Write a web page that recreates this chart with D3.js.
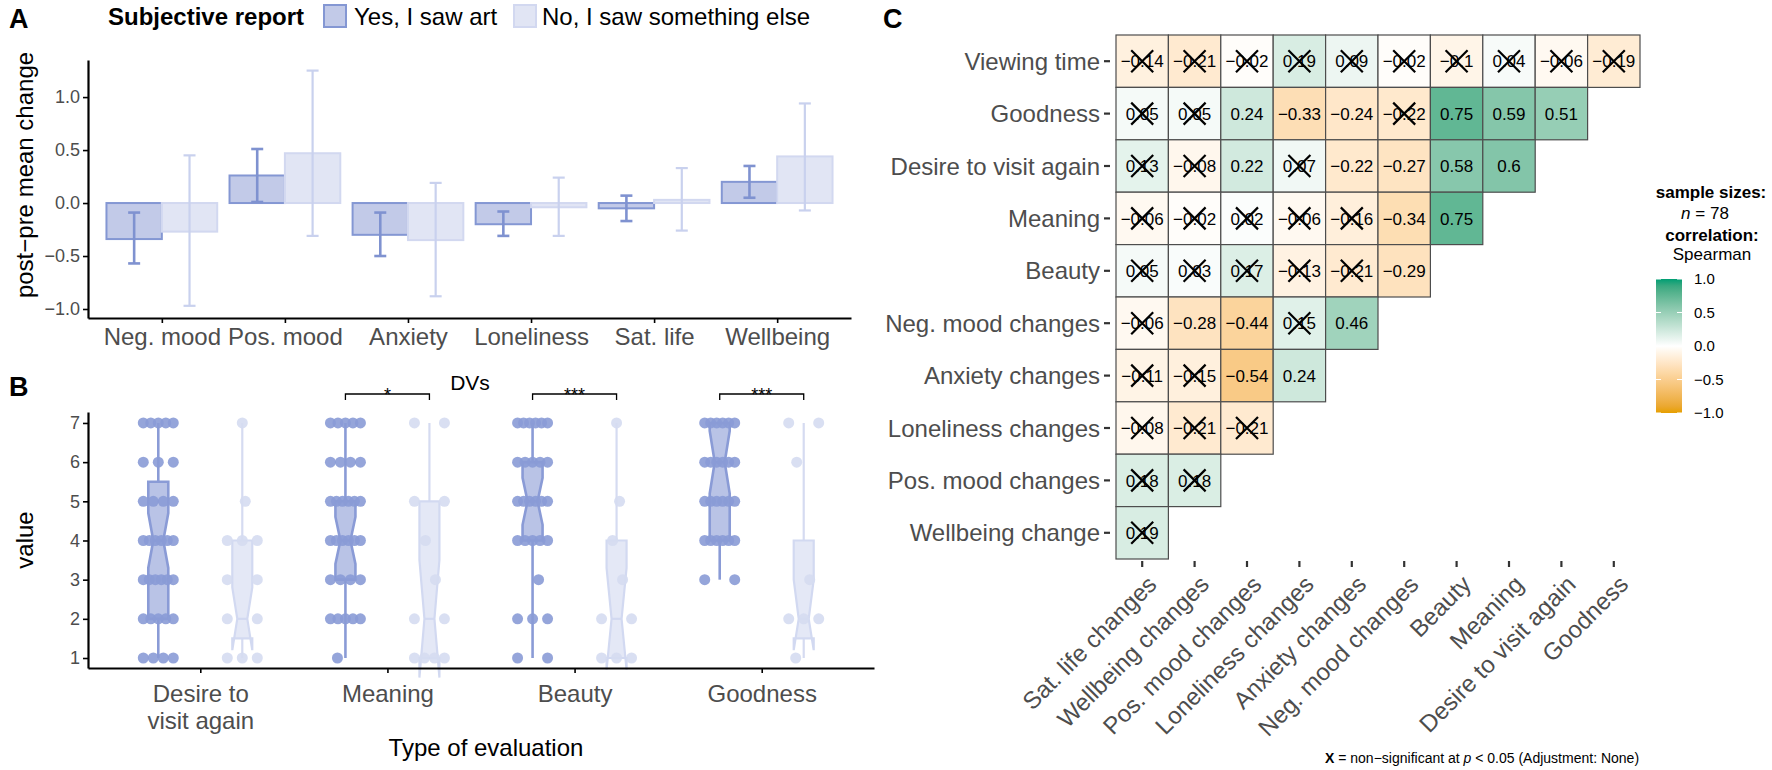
<!DOCTYPE html>
<html>
<head>
<meta charset="utf-8">
<script src="https://cdn.jsdelivr.net/npm/d3@7"></script>
<style>
  body { margin: 0; background: #fff; }
  svg { font-family: "Liberation Sans", Arial, sans-serif; }
</style>
</head>
<body>
<svg id="fig" width="1772" height="770"></svg>
<script>
// ---------- data: panel A ----------
const dvLabels = ["Neg. mood", "Pos. mood", "Anxiety", "Loneliness", "Sat. life", "Wellbeing"];
const groupLabels = ["Yes, I saw art", "No, I saw something else"];
const meanYes = [-0.34, 0.26, -0.30, -0.20, -0.05, 0.20];
const lowYes = [-0.57, 0.01, -0.50, -0.31, -0.17, 0.05];
const highYes = [-0.09, 0.51, -0.09, -0.08, 0.07, 0.35];
const meanNo = [-0.27, 0.47, -0.35, -0.04, 0.03, 0.44];
const lowNo = [-0.97, -0.31, -0.88, -0.31, -0.26, -0.07];
const highNo = [0.45, 1.25, 0.19, 0.24, 0.33, 0.94];
const yTicksA = [-1, -0.5, 0, 0.5, 1];

// ---------- data: panel B ----------
const evalLabels = ["Desire to\nvisit again", "Meaning", "Beauty", "Goodness"];
// box stats: [ymin, lower, notchLower, middle, notchUpper, upper, ymax]
const boxYes = [[1, 2, 3.3, 4, 4.7, 5.5, 7], [1, 3, 3.4, 4, 4.6, 5, 7], [1, 4, 4.4, 5, 5.6, 6, 7], [3, 4, 5.2, 6, 6.8, 7, 7]];
const boxNo = [[1, 1.5, 1.2, 2, 2.8, 4, 7], [1, 1, 0.5, 2, 3.5, 5, 7], [1, 1, 0.7, 2, 3.3, 4, 7], [1, 1.5, 1.2, 2, 3.0, 4, 7]];
// number of responses at values 1..7
const countsYes = [[4, 5, 6, 6, 4, 3, 5], [1, 5, 4, 6, 6, 4, 5], [2, 3, 1, 5, 6, 5, 6], [0, 0, 2, 6, 6, 6, 6]];
const countsNo = [[3, 2, 2, 3, 1, 0, 1], [4, 2, 1, 1, 2, 0, 2], [3, 2, 1, 1, 1, 0, 1], [1, 3, 1, 0, 0, 1, 2]];
const sigLabels = ["", "*", "***", "***"];
const yTicksB = [1, 2, 3, 4, 5, 6, 7];

// ---------- data: panel C ----------
const rowVars = ["Viewing time", "Goodness", "Desire to visit again", "Meaning", "Beauty", "Neg. mood changes", "Anxiety changes", "Loneliness changes", "Pos. mood changes", "Wellbeing change"];
const colVars = ["Sat. life changes", "Wellbeing changes", "Pos. mood changes", "Loneliness changes", "Anxiety changes", "Neg. mood changes", "Beauty", "Meaning", "Desire to visit again", "Goodness"];
const corrValues = [
  [-0.14, -0.21, -0.02, 0.19, 0.09, -0.02, -0.1, 0.04, -0.06, -0.19],
  [0.05, 0.05, 0.24, -0.33, -0.24, -0.22, 0.75, 0.59, 0.51],
  [0.13, -0.08, 0.22, 0.07, -0.22, -0.27, 0.58, 0.6],
  [-0.06, -0.02, 0.02, -0.06, -0.16, -0.34, 0.75],
  [0.05, 0.03, 0.17, -0.13, -0.21, -0.29],
  [-0.06, -0.28, -0.44, 0.15, 0.46],
  [-0.11, -0.15, -0.54, 0.24],
  [-0.08, -0.21, -0.21],
  [0.18, 0.18],
  [0.19]
];
const corrSignificant = [
  [0, 0, 0, 0, 0, 0, 0, 0, 0, 0],
  [0, 0, 1, 1, 1, 0, 1, 1, 1],
  [0, 0, 1, 0, 1, 1, 1, 1],
  [0, 0, 0, 0, 0, 1, 1],
  [0, 0, 0, 0, 0, 1],
  [0, 1, 1, 0, 1],
  [0, 0, 1, 1],
  [0, 0, 0],
  [0, 0],
  [0]
];
const legendTicks = [1, 0.5, 0, -0.5, -1];

// ---------- styles ----------
const yesFill = "#c2cae8", yesStroke = "#8497d3", yesDot = "#8a9bd6";
const noFill = "#e1e5f4", noStroke = "#d2d8f0", noDot = "#d5dbf1";
const greyText = "#4d4d4d";

const svg = d3.select("#fig");

// helper: style a ggplot-like axis
function styleAxis(g, fontSize) {
  g.select(".domain").attr("stroke", "#000").attr("stroke-width", 2.2);
  g.selectAll(".tick line").attr("stroke", "#000").attr("stroke-width", 1.6);
  g.selectAll(".tick text").attr("fill", greyText).style("font-size", fontSize + "px");
}

// =================== PANEL A ===================
const xA = d3.scalePoint().domain(dvLabels).range([88, 851]).padding(0.6);
const dodgeA = d3.scaleBand().domain(groupLabels).range([-0.45 * xA.step(), 0.45 * xA.step()]);
const yA = d3.scaleLinear().domain([-1.085, 1.35]).range([318, 60]);

const gA = svg.append("g");

gA.append("text").attr("x", 9).attr("y", 28).text("A")
  .style("font-size", "27px").style("font-weight", "bold");

// legend
gA.append("text").attr("x", 108).attr("y", 25).text("Subjective report")
  .style("font-size", "24px").style("font-weight", "bold");
const legA = [
  { label: groupLabels[0], fill: yesFill, stroke: yesStroke, x: 324, tx: 354 },
  { label: groupLabels[1], fill: noFill, stroke: noStroke, x: 514, tx: 542 }
];
legA.forEach((d) => {
  gA.append("rect").attr("x", d.x).attr("y", 5).attr("width", 22).attr("height", 22)
    .attr("fill", d.fill).attr("stroke", d.stroke).attr("stroke-width", 2);
  gA.append("text").attr("x", d.tx).attr("y", 25).text(d.label).style("font-size", "24px");
});

// bars
const seriesA = [
  { name: groupLabels[0], mean: meanYes, low: lowYes, high: highYes, fill: yesFill, stroke: yesStroke, err: "#7f92d0", ew: 2.6 },
  { name: groupLabels[1], mean: meanNo, low: lowNo, high: highNo, fill: noFill, stroke: noStroke, err: "#c9d1ee", ew: 2.2 }
];
seriesA.forEach((s) => {
  gA.append("g").selectAll("rect").data(dvLabels).enter().append("rect")
    .attr("x", (d) => xA(d) + dodgeA(s.name))
    .attr("width", dodgeA.bandwidth())
    .attr("y", (d, i) => Math.min(yA(s.mean[i]), yA(0)))
    .attr("height", (d, i) => Math.abs(yA(s.mean[i]) - yA(0)))
    .attr("fill", s.fill).attr("stroke", s.stroke).attr("stroke-width", 2);
});
seriesA.forEach((s) => {
  const eg = gA.append("g").attr("stroke", s.err).attr("stroke-width", s.ew).attr("fill", "none");
  dvLabels.forEach((d, i) => {
    const cx = xA(d) + dodgeA(s.name) + dodgeA.bandwidth() / 2;
    eg.append("line").attr("x1", cx).attr("x2", cx).attr("y1", yA(s.low[i])).attr("y2", yA(s.high[i]));
    eg.append("line").attr("x1", cx - 6).attr("x2", cx + 6).attr("y1", yA(s.low[i])).attr("y2", yA(s.low[i]));
    eg.append("line").attr("x1", cx - 6).attr("x2", cx + 6).attr("y1", yA(s.high[i])).attr("y2", yA(s.high[i]));
  });
});

// axes
gA.append("g").attr("transform", "translate(88,0)")
  .call(d3.axisLeft(yA).tickValues(yTicksA).tickFormat(d3.format(".1f")).tickSize(5).tickSizeOuter(0).tickPadding(3))
  .call((g) => styleAxis(g, 18));
gA.append("g").attr("transform", "translate(0,318)")
  .call(d3.axisBottom(xA).tickSize(5).tickSizeOuter(0).tickPadding(5))
  .call((g) => styleAxis(g, 24));

gA.append("text").attr("transform", "translate(33,175) rotate(-90)").attr("text-anchor", "middle")
  .text("post\u2212pre mean change").style("font-size", "24px");
gA.append("text").attr("x", 470).attr("y", 390).attr("text-anchor", "middle")
  .text("DVs").style("font-size", "21px");

// =================== PANEL B ===================
const xB = d3.scalePoint().domain(evalLabels).range([88, 874]).padding(0.6);
const yB = d3.scaleLinear().domain([0.745, 7.28]).range([668, 412]);
const dodgeB = 42;

const gB = svg.append("g");
gB.append("text").attr("x", 9).attr("y", 396).text("B")
  .style("font-size", "27px").style("font-weight", "bold");

const seriesB = [
  { box: boxYes, counts: countsYes, off: -dodgeB, fill: "#b9c3e6", stroke: "#8a9bd6", line: "#8a9bd6", dot: yesDot, lw: 2.6 },
  { box: boxNo, counts: countsNo, off: dodgeB, fill: "#e4e8f6", stroke: "#d2d9f1", line: "#d5dbf1", dot: noDot, lw: 2.2 }
];
seriesB.forEach((s) => {
  const sg = gB.append("g");
  evalLabels.forEach((lab, i) => {
    const cx = xB(lab) + s.off;
    const [ymin, lower, nLo, mid, nHi, upper, ymax] = s.box[i];
    sg.append("line").attr("x1", cx).attr("x2", cx).attr("y1", yB(ymin)).attr("y2", yB(ymax))
      .attr("stroke", s.line).attr("stroke-width", s.lw);
    const h = 10;
    const pts = [[cx - h, upper], [cx - h, nHi], [cx - h / 2, mid], [cx - h, nLo], [cx - h, lower],
      [cx + h, lower], [cx + h, nLo], [cx + h / 2, mid], [cx + h, nHi], [cx + h, upper]];
    sg.append("path")
      .attr("d", d3.line()(pts.map((p) => [p[0], yB(p[1])])) + "Z")
      .attr("fill", s.fill).attr("stroke", s.stroke).attr("stroke-width", s.lw);
    sg.append("line").attr("x1", cx - h / 2).attr("x2", cx + h / 2).attr("y1", yB(mid)).attr("y2", yB(mid))
      .attr("stroke", s.stroke).attr("stroke-width", s.lw);
  });
  // dots, spread evenly across the jitter width
  evalLabels.forEach((lab, i) => {
    const cx = xB(lab) + s.off;
    const dots = [];
    s.counts[i].forEach((n, k) => {
      d3.range(n).forEach((j) => {
        const dx = n === 1 ? ((k * 7) % 17) - 8 : -15 + (30 * j) / (n - 1);
        dots.push({ x: cx + dx, v: k + 1 });
      });
    });
    sg.selectAll(null).data(dots).enter().append("circle")
      .attr("cx", (d) => d.x).attr("cy", (d) => yB(d.v)).attr("r", 5.5)
      .attr("fill", s.dot).attr("fill-opacity", 0.9);
  });
});

// significance brackets
evalLabels.forEach((lab, i) => {
  if (!sigLabels[i]) return;
  const x0 = xB(lab) - dodgeB, x1 = xB(lab) + dodgeB;
  gB.append("path").attr("d", `M${x0},400V394H${x1}V400`)
    .attr("fill", "none").attr("stroke", "#000").attr("stroke-width", 1.3);
  gB.append("text").attr("x", (x0 + x1) / 2).attr("y", 401).attr("text-anchor", "middle")
    .text(sigLabels[i]).style("font-size", "18px");
});

gB.append("g").attr("transform", "translate(88,0)")
  .call(d3.axisLeft(yB).tickValues(yTicksB).tickFormat(d3.format("d")).tickSize(5).tickSizeOuter(0).tickPadding(3))
  .call((g) => styleAxis(g, 18));
const axB = gB.append("g").attr("transform", "translate(0,668)")
  .call(d3.axisBottom(xB).tickSize(5).tickSizeOuter(0).tickPadding(6))
  .call((g) => styleAxis(g, 24));
axB.selectAll(".tick text").each(function (d) {
  const t = d3.select(this);
  const lines = d.split("\n");
  t.text(null);
  lines.forEach((ln, k) => t.append("tspan").attr("x", 0).attr("dy", k === 0 ? "0.95em" : "1.15em").text(ln));
});

gB.append("text").attr("transform", "translate(33,540) rotate(-90)").attr("text-anchor", "middle")
  .text("value").style("font-size", "24px");
gB.append("text").attr("x", 486).attr("y", 756).attr("text-anchor", "middle")
  .text("Type of evaluation").style("font-size", "24px");

// =================== PANEL C ===================
const xC = d3.scaleBand().domain(colVars).range([1116, 1640]);
const yC = d3.scaleBand().domain(rowVars).range([35, 559]);
const colorC = d3.scaleLinear().domain([-1, 0, 1]).range(["#E69F00", "#FFFFFF", "#009E73"]).interpolate(d3.interpolateLab);

const gC = svg.append("g");
gC.append("text").attr("x", 883).attr("y", 28).text("C")
  .style("font-size", "27px").style("font-weight", "bold");

const cells = [];
corrValues.forEach((row, r) => row.forEach((v, c) => {
  cells.push({ row: rowVars[r], col: colVars[c], v: v, sig: corrSignificant[r][c] });
}));

const cellG = gC.selectAll(".cell").data(cells).enter().append("g")
  .attr("transform", (d) => `translate(${xC(d.col)},${yC(d.row)})`);
cellG.append("rect").attr("width", xC.bandwidth()).attr("height", yC.bandwidth())
  .attr("fill", (d) => colorC(d.v)).attr("stroke", "#4d4d4d").attr("stroke-width", 1.2);
cellG.append("text").attr("x", xC.bandwidth() / 2).attr("y", yC.bandwidth() / 2).attr("dy", "0.36em")
  .attr("text-anchor", "middle").style("font-size", "17px")
  .text((d) => String(d.v).replace("-", "\u2212"));
cellG.filter((d) => !d.sig).append("path")
  .attr("d", () => {
    const cx = xC.bandwidth() / 2, cy = yC.bandwidth() / 2, s = 11;
    return `M${cx - s},${cy - s}L${cx + s},${cy + s}M${cx - s},${cy + s}L${cx + s},${cy - s}`;
  })
  .attr("stroke", "#000").attr("stroke-width", 2.2);

// row labels and ticks
rowVars.forEach((r) => {
  const cy = yC(r) + yC.bandwidth() / 2;
  gC.append("line").attr("x1", 1104).attr("x2", 1110).attr("y1", cy).attr("y2", cy)
    .attr("stroke", "#333").attr("stroke-width", 2.2);
  gC.append("text").attr("x", 1100).attr("y", cy).attr("dy", "0.36em").attr("text-anchor", "end")
    .attr("fill", greyText).style("font-size", "24px").text(r);
});
// column labels and ticks
colVars.forEach((c) => {
  const cx = xC(c) + xC.bandwidth() / 2;
  gC.append("line").attr("x1", cx).attr("x2", cx).attr("y1", 561).attr("y2", 567)
    .attr("stroke", "#333").attr("stroke-width", 2.2);
  gC.append("text").attr("transform", `translate(${cx + 4},${574}) rotate(-45)`)
    .attr("dy", "0.7em").attr("text-anchor", "end")
    .attr("fill", greyText).style("font-size", "24px").text(c);
});

// legend
const legC = gC.append("g").attr("text-anchor", "middle");
legC.append("text").attr("x", 1711).attr("y", 198).text("sample sizes:")
  .style("font-size", "17px").style("font-weight", "bold");
const nText = legC.append("text").attr("x", 1705).attr("y", 219).style("font-size", "17px");
nText.append("tspan").style("font-style", "italic").text("n");
nText.append("tspan").text(" = 78");
legC.append("text").attr("x", 1712).attr("y", 241).text("correlation:")
  .style("font-size", "17px").style("font-weight", "bold");
legC.append("text").attr("x", 1712).attr("y", 260).text("Spearman").style("font-size", "17px");

const yLeg = d3.scaleLinear().domain([-1, 1]).range([413, 279]);
const grad = svg.append("defs").append("linearGradient").attr("id", "corrGrad")
  .attr("x1", 0).attr("x2", 0).attr("y1", 0).attr("y2", 1);
d3.range(-1, 1.001, 0.1).reverse().forEach((v) => {
  grad.append("stop").attr("offset", (yLeg(v) - 279) / 134).attr("stop-color", colorC(v));
});
gC.append("rect").attr("x", 1656).attr("y", 279).attr("width", 26).attr("height", 134).attr("fill", "url(#corrGrad)");
legendTicks.forEach((v) => {
  const y = yLeg(v);
  gC.append("line").attr("x1", 1656).attr("x2", 1661).attr("y1", y).attr("y2", y).attr("stroke", "#fff").attr("stroke-width", 1);
  gC.append("line").attr("x1", 1677).attr("x2", 1682).attr("y1", y).attr("y2", y).attr("stroke", "#fff").attr("stroke-width", 1);
  gC.append("text").attr("x", 1694).attr("y", y).attr("dy", "0.36em").style("font-size", "15px")
    .text(d3.format(".1f")(v));
});

// footnote
const foot = gC.append("text").attr("x", 1325).attr("y", 763).style("font-size", "14px");
foot.append("tspan").style("font-weight", "bold").text("X");
foot.append("tspan").text(" = non\u2212significant at ");
foot.append("tspan").style("font-style", "italic").text("p");
foot.append("tspan").text(" < 0.05 (Adjustment: None)");
</script>
</body>
</html>
